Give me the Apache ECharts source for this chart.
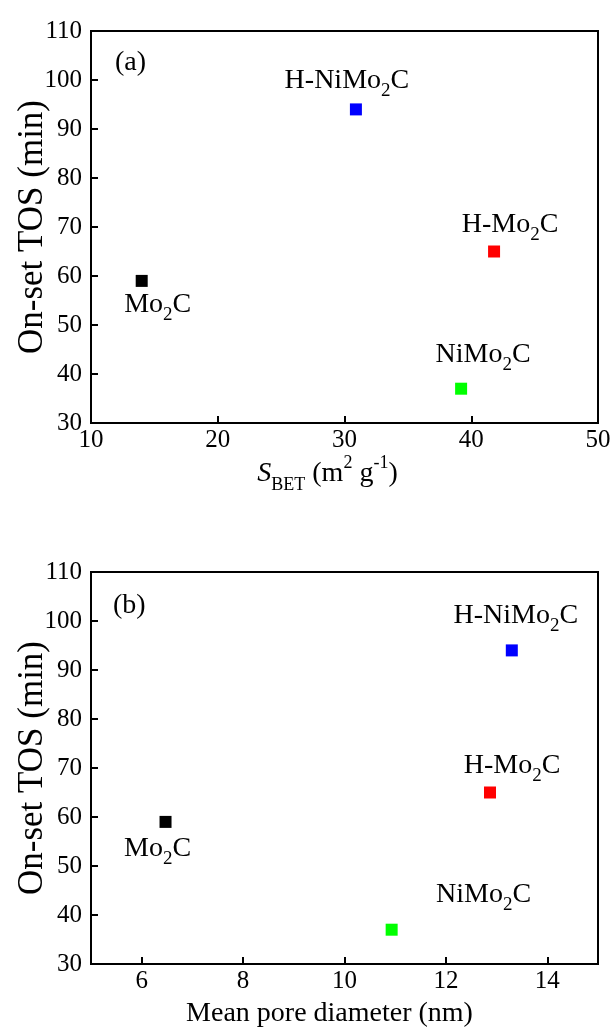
<!DOCTYPE html>
<html>
<head>
<meta charset="utf-8">
<script src="https://cdn.jsdelivr.net/npm/echarts@6/dist/echarts.min.js"></script>
<style>
html,body{margin:0;padding:0;background:#ffffff;}
#chart{width:612px;height:1030px;}
</style>
</head>
<body>
<div id="chart"></div>
<script>
// ---- data ----
const samples = ['Mo2C', 'H-NiMo2C', 'H-Mo2C', 'NiMo2C'];
const surfaceArea = [14.0, 30.9, 41.8, 39.2];      // S_BET (m2 g-1)
const poreDiameter = [6.47, 13.3, 12.87, 10.93];   // mean pore diameter (nm)
const onsetTOS = [59, 94, 65, 37];                 // on-set TOS (min)
const yTicks = [30, 40, 50, 60, 70, 80, 90, 100, 110];
const xTicksA = [10, 20, 30, 40, 50];
const xTicksB = [6, 8, 10, 12, 14];

// ---- styles ----
const sampleColors = ['#000000', '#0000ff', '#ff0000', '#00ff00'];
const labelOffsetA = [[16, 24], [-9, -29], [16, -27], [22, -34]];
const labelOffsetB = [[-8, 27], [4, -35], [22, -27], [92, -35]];
const FONT = '"Liberation Serif","Times New Roman",serif';

const chart = echarts.init(document.getElementById('chart'), null, {renderer: 'canvas'});

function richLabel(name) {
  return name.replace('2', '{s|2}');
}

function makeSeries(xs, offsets, idx) {
  return {
    type: 'scatter',
    xAxisIndex: idx,
    yAxisIndex: idx,
    symbol: 'rect',
    symbolSize: 12,
    silent: true,
    emphasis: {disabled: true},
    itemStyle: {opacity: 1},
    data: samples.map((s, i) => ({
      name: s,
      value: [xs[i], onsetTOS[i]],
      itemStyle: {color: sampleColors[i], opacity: 1},
      label: {offset: offsets[i]}
    })),
    label: {
      show: true,
      position: 'inside',
      color: '#000',
      opacity: 1,
      fontFamily: FONT,
      fontSize: 28,
      lineHeight: 40,
      formatter: p => richLabel(p.name),
      rich: {
        s: {fontFamily: FONT, fontSize: 19, lineHeight: 18, verticalAlign: 'bottom', color: '#000'}
      }
    }
  };
}

function yAxisFor(idx) {
  return {
    type: 'value',
    gridIndex: idx,
    min: 30, max: 110, interval: 10,
    name: 'On-set TOS (min)',
    nameLocation: 'middle',
    nameRotate: 90,
    nameGap: 41,
    nameMoveOverlap: false,
    nameTextStyle: {fontFamily: FONT, fontSize: 35, color: '#000', lineHeight: 35},
    axisLine: {show: true, lineStyle: {color: '#000', width: 2}},
    axisTick: {show: true, inside: true, length: 7, lineStyle: {color: '#000', width: 2}, customValues: yTicks},
    axisLabel: {fontFamily: FONT, fontSize: 25, color: '#000', margin: 9, customValues: yTicks},
    splitLine: {show: false}
  };
}

const gridCommon = {
  width: 507, height: 392, show: true, borderColor: '#000', borderWidth: 2,
  backgroundColor: 'transparent', containLabel: false, outerBoundsMode: 'none'
};

const option = {
  animation: false,
  backgroundColor: '#ffffff',
  title: [
    {text: '(a)', left: 110, top: 44, textStyle: {fontFamily: FONT, fontSize: 28, fontWeight: 'normal', color: '#000'}},
    {text: '(b)', left: 108, top: 587, textStyle: {fontFamily: FONT, fontSize: 28, fontWeight: 'normal', color: '#000'}}
  ],
  grid: [
    Object.assign({left: 91, top: 31}, gridCommon),
    Object.assign({left: 91, top: 572}, gridCommon)
  ],
  xAxis: [
    {
      type: 'value', gridIndex: 0, min: 10, max: 50, interval: 10,
      name: '{i|S}{sb|BET} (m{sp|2} g{sp|-1})',
      nameLocation: 'middle', nameGap: 31, nameMoveOverlap: false,
      nameTextStyle: {
        fontFamily: FONT, fontSize: 28, lineHeight: 40, color: '#000', padding: [0, 34, 0, 0],
        rich: {
          i: {fontFamily: FONT, fontSize: 28, lineHeight: 40, fontStyle: 'italic', color: '#000'},
          sb: {fontFamily: FONT, fontSize: 18, lineHeight: 18, verticalAlign: 'bottom', color: '#000'},
          sp: {fontFamily: FONT, fontSize: 18, lineHeight: 26, verticalAlign: 'top', color: '#000'}
        }
      },
      axisLine: {show: true, lineStyle: {color: '#000', width: 2}},
      axisTick: {show: true, inside: true, length: 7, lineStyle: {color: '#000', width: 2}, customValues: xTicksA},
      axisLabel: {fontFamily: FONT, fontSize: 25, color: '#000', margin: 5, customValues: xTicksA},
      splitLine: {show: false}
    },
    {
      type: 'value', gridIndex: 1, min: 5, max: 15,
      name: 'Mean pore diameter (nm)',
      nameLocation: 'middle', nameGap: 30, nameMoveOverlap: false,
      nameTextStyle: {fontFamily: FONT, fontSize: 28, lineHeight: 40, color: '#000', padding: [0, 30, 0, 0]},
      axisLine: {show: true, lineStyle: {color: '#000', width: 2}},
      axisTick: {show: true, inside: true, length: 7, lineStyle: {color: '#000', width: 2}, customValues: xTicksB},
      axisLabel: {fontFamily: FONT, fontSize: 25, color: '#000', margin: 5, customValues: xTicksB},
      splitLine: {show: false}
    }
  ],
  yAxis: [yAxisFor(0), yAxisFor(1)],
  series: [
    makeSeries(surfaceArea, labelOffsetA, 0),
    makeSeries(poreDiameter, labelOffsetB, 1)
  ]
};

chart.setOption(option);
</script>
</body>
</html>
